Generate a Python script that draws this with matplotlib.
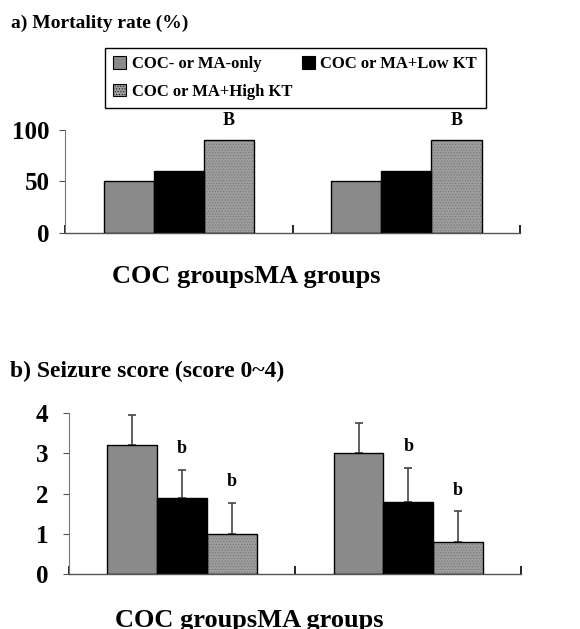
import numpy as np
import matplotlib.pyplot as plt
from matplotlib.patches import Patch

plt.rcParams['font.family'] = ['Liberation Serif', 'DejaVu Serif']
plt.rcParams['font.weight'] = 'bold'
plt.rcParams['hatch.linewidth'] = 0.35

groups = ['COC groups', 'MA groups']
series = ['COC- or MA-only', 'COC or MA+Low KT', 'COC or MA+High KT']

mortality = [[50, 50], [60, 60], [90, 90]]
mort_marks = [['', ''], ['', ''], ['B', 'B']]

seizure = [[3.2, 3.0], [1.9, 1.8], [1.0, 0.8]]
seizure_err = [[0.75, 0.76], [0.7, 0.85], [0.77, 0.76]]
seiz_marks = [['', ''], ['b', 'b'], ['b', 'b']]

colors = ['#8a8a8a', '#000000', '#9c9c9c']
hatches = [None, None, '......']

fig = plt.figure(figsize=(5.8, 6.29), dpi=100)
ax1 = fig.add_axes([0.112, 0.630, 0.785, 0.163])
ax2 = fig.add_axes([0.119, 0.0874, 0.780, 0.2555])

x = np.arange(len(groups))
w = 0.22


def draw(ax, vals, errs, marks, ymax, yticks, pad, lpad):
    for i in range(3):
        pos = x + (i - 1) * w
        if errs is not None:
            ax.errorbar(pos, vals[i], yerr=[np.zeros(2), errs[i]], fmt='none',
                        ecolor='#444444', elinewidth=1.2, capsize=3, capthick=1.2, zorder=1)
        ax.bar(pos, vals[i], w, color=colors[i], edgecolor='#707070' if hatches[i] else 'black',
               linewidth=0, hatch=hatches[i], zorder=2)
        ax.bar(pos, vals[i], w, fill=False, edgecolor='black', linewidth=1.0, zorder=3)
        for j in range(2):
            if marks[i][j]:
                top = vals[i][j] + (errs[i][j] if errs is not None else 0)
                ax.annotate(marks[i][j], (pos[j], top), xytext=(0, pad),
                            textcoords='offset points', ha='center', va='baseline',
                            fontsize=13, fontweight='bold')
    ax.set_xlim(-0.5, 1.5)
    ax.set_ylim(0, ymax)
    ax.set_yticks(yticks)
    ax.set_yticklabels([str(t) for t in yticks], fontsize=18, fontweight='bold')
    ax.set_xticks([-0.5, 0.5, 1.5])
    ax.set_xticklabels([])
    ax.tick_params(axis='x', direction='in', length=6, width=1.2, color='black')
    ax.tick_params(axis='y', direction='out', length=4, width=0.8, color='#555555', pad=lpad)
    for s in ['top', 'right']:
        ax.spines[s].set_visible(False)
    ax.spines['left'].set_color('#777777')
    ax.spines['left'].set_linewidth(0.8)
    ax.spines['bottom'].set_color('#555555')
    ax.spines['bottom'].set_linewidth(1.0)


draw(ax1, mortality, None, mort_marks, 100, [0, 50, 100], 11, 7)
draw(ax2, seizure, seizure_err, seiz_marks, 4, [0, 1, 2, 3, 4], 12, 11)

handles = []
for i in range(3):
    handles.append(Patch(facecolor=colors[i], edgecolor='black', linewidth=0.8, hatch=hatches[i]))
order = [0, 2, 1]
fig.legend([handles[k] for k in order], [series[k] for k in order], ncol=2,
           loc='upper left', bbox_to_anchor=(105 / 580, 1 - 48 / 629), borderaxespad=0,
           frameon=True, fancybox=False, edgecolor='black', framealpha=1,
           prop={'size': 12, 'weight': 'bold'}, handlelength=0.75, handleheight=0.75,
           handletextpad=0.35, columnspacing=0.6, labelspacing=0.7, borderpad=0.5)

fig.text(11 / 580, 1 - 28 / 629, 'a) Mortality rate (%)', fontsize=14, fontweight='bold',
         va='baseline', ha='left')
fig.text(10 / 580, 1 - 377 / 629, 'b) Seizure score (score 0~4)', fontsize=17,
         fontweight='bold', va='baseline', ha='left')
fig.text(112 / 580, 1 - 283 / 629, groups[0] + groups[1], fontsize=19,
         fontweight='bold', va='baseline', ha='left')
fig.text(115 / 580, 1 - 627 / 629, groups[0] + groups[1], fontsize=19,
         fontweight='bold', va='baseline', ha='left')

fig.savefig('out.png', dpi=100)
